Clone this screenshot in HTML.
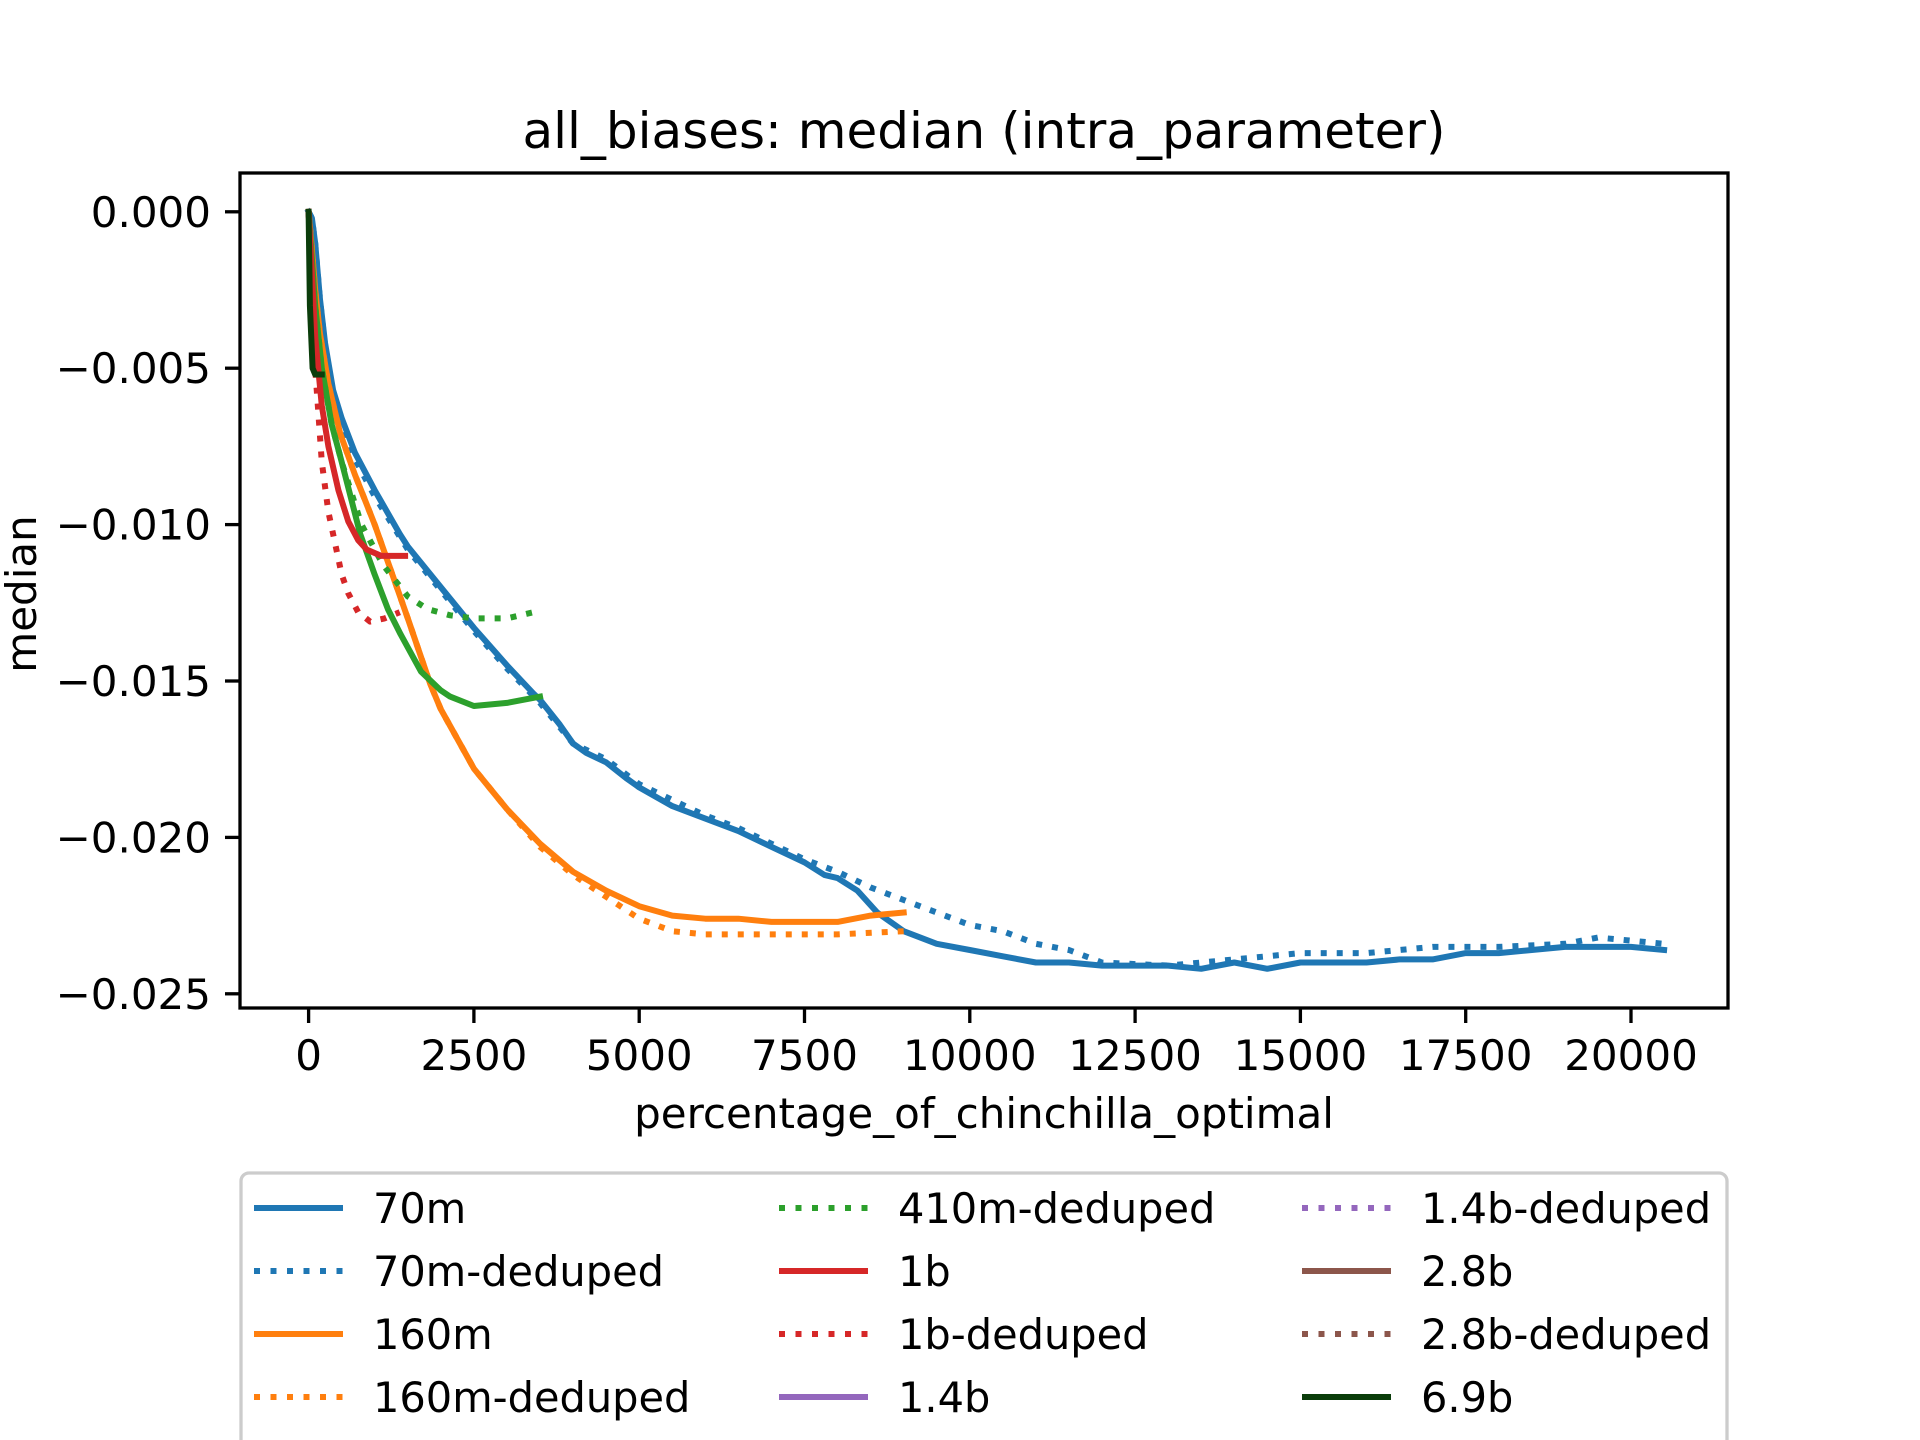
<!DOCTYPE html>
<html><head><meta charset="utf-8"><style>
html,body{margin:0;padding:0;background:#fff;}
svg{display:block;font-family:"DejaVu Sans","Liberation Sans",sans-serif;}
</style></head><body>
<svg id="chart" width="1920" height="1440" viewBox="0 0 1920 1440">
<rect width="1920" height="1440" fill="#fff"/>
<text x="984" y="148" font-size="50" text-anchor="middle">all_biases: median (intra_parameter)</text>
<g id="plot"></g>
<g id="ticks"></g>
<rect x="240" y="173" width="1488" height="835" fill="none" stroke="#000" stroke-width="3.3"/>
<text x="984" y="1128" font-size="42" text-anchor="middle">percentage_of_chinchilla_optimal</text>
<text x="36" y="594" font-size="42" text-anchor="middle" transform="rotate(-90 36 594)">median</text>
<rect x="241" y="1173" width="1486" height="300" rx="8" fill="#fff" fill-opacity="0.8" stroke="#ccc" stroke-width="3.3"/>
<g id="legend"></g>
</svg>
<script>
const NS="http://www.w3.org/2000/svg";
const xTicks=[0,2500,5000,7500,10000,12500,15000,17500,20000];
const yTicks=[0,-0.005,-0.010,-0.015,-0.020,-0.025];
const yTickLabels=["0.000","\u22120.005","\u22120.010","\u22120.015","\u22120.020","\u22120.025"];
const names=["70m","70m-deduped","160m","160m-deduped","410m","410m-deduped","1b","1b-deduped","1.4b","1.4b-deduped","2.8b","2.8b-deduped","6.9b"];
const colors=["#1f77b4","#1f77b4","#ff7f0e","#ff7f0e","#2ca02c","#2ca02c","#d62728","#d62728","#9467bd","#9467bd","#8c564b","#8c564b","#0b3d0b"];
const dotted=[false,true,false,true,false,true,false,true,false,true,false,true,false];
const x70m=[0,50,100,172,250,370,500,700,1000,1380,1500,2000,2500,3000,3400,3500,3800,4000,4200,4500,4800,5000,5500,6000,6500,7000,7500,7800,8000,8300,8600,9000,9500,10000,10500,11000,11500,12000,12500,13000,13500,14000,14500,15000,15500,16000,16500,17000,17500,18000,18500,19000,19500,20000,20500];
const y70m=[0,-0.0002,-0.001,-0.0028,-0.0042,-0.0057,-0.0066,-0.0077,-0.0089,-0.0103,-0.0107,-0.0120,-0.0133,-0.0145,-0.0154,-0.0156,-0.0164,-0.0170,-0.0173,-0.0176,-0.0181,-0.0184,-0.0190,-0.0194,-0.0198,-0.0203,-0.0208,-0.0212,-0.0213,-0.0217,-0.0224,-0.0230,-0.0234,-0.0236,-0.0238,-0.0240,-0.0240,-0.0241,-0.0241,-0.0241,-0.0242,-0.0240,-0.0242,-0.0240,-0.0240,-0.0240,-0.0239,-0.0239,-0.0237,-0.0237,-0.0236,-0.0235,-0.0235,-0.0235,-0.0236];
const x70md=[0,50,100,172,250,370,500,700,1000,1500,2000,2500,3000,3500,4000,4500,5000,5500,6000,6500,7000,7500,8000,8500,9000,9500,10000,10500,11000,11500,12000,13000,14000,15000,16000,17000,18000,19000,19500,20500];
const y70md=[0,-0.0002,-0.001,-0.0028,-0.0043,-0.0059,-0.0068,-0.0079,-0.0091,-0.0108,-0.0121,-0.0134,-0.0146,-0.0157,-0.0170,-0.0175,-0.0183,-0.0188,-0.0193,-0.0197,-0.0202,-0.0207,-0.0211,-0.0216,-0.0220,-0.0224,-0.0228,-0.0230,-0.0234,-0.0236,-0.0240,-0.0241,-0.0239,-0.0237,-0.0237,-0.0235,-0.0235,-0.0234,-0.0232,-0.0234];
const x160m=[0,50,100,172,300,480,700,1000,1300,1500,1840,2000,2500,3000,3500,4000,4500,5000,5500,6000,6500,7000,7500,8000,8500,9000];
const y160m=[0,-0.0012,-0.0025,-0.0039,-0.0055,-0.0071,-0.0084,-0.0100,-0.0118,-0.0130,-0.0151,-0.0159,-0.0178,-0.0191,-0.0202,-0.0211,-0.0217,-0.0222,-0.0225,-0.0226,-0.0226,-0.0227,-0.0227,-0.0227,-0.0225,-0.0224];
const x160md=[0,50,100,172,300,480,700,1000,1300,1500,1840,2000,2500,3000,3500,4000,4500,5000,5500,6000,7000,8000,9000];
const y160md=[0,-0.0012,-0.0025,-0.0039,-0.0055,-0.0071,-0.0084,-0.0100,-0.0118,-0.0130,-0.0151,-0.0159,-0.0178,-0.0191,-0.0203,-0.0212,-0.0219,-0.0226,-0.0230,-0.0231,-0.0231,-0.0231,-0.0230];
const x410m=[0,50,100,200,350,500,780,1000,1200,1390,1700,2000,2140,2500,3000,3500];
const y410m=[0,-0.0015,-0.003,-0.005,-0.0068,-0.0080,-0.0103,-0.0116,-0.0127,-0.0135,-0.0147,-0.0153,-0.0155,-0.0158,-0.0157,-0.0155];
const x410md=[0,100,200,350,500,800,1130,1500,1800,2140,2500,3000,3400];
const y410md=[0,-0.003,-0.005,-0.0068,-0.0080,-0.0100,-0.0113,-0.0123,-0.0127,-0.0129,-0.0130,-0.0130,-0.0128];
const x1b=[0,100,200,300,450,600,750,880,1100,1460];
const y1b=[0,-0.004,-0.0062,-0.0075,-0.0089,-0.0099,-0.0105,-0.0108,-0.0110,-0.0110];
const x1bd=[0,100,200,300,370,500,600,750,930,1150,1380];
const y1bd=[0,-0.005,-0.008,-0.0096,-0.0103,-0.0116,-0.0122,-0.0128,-0.0131,-0.0130,-0.0128];
const x69b=[0,20,60,100,200];
const y69b=[0,-0.003,-0.005,-0.0052,-0.0052];
const seriesX=[x70m,x70md,x160m,x160md,x410m,x410md,x1b,x1bd,null,null,null,null,x69b];
const seriesY=[y70m,y70md,y160m,y160md,y410m,y410md,y1b,y1bd,null,null,null,null,y69b];
function sx(v){return 308.6+v*(165.3/2500);}
function sy(v){return 211.8-v*31280;}
const plot=document.getElementById('plot');
const tk=document.getElementById('ticks');
const drawOrder=[0,1,2,3,4,5,6,7,12];
for(const i of drawOrder){
  const xs=seriesX[i],ys=seriesY[i];
  const p=document.createElementNS(NS,'polyline');
  p.setAttribute('points',xs.map((x,j)=>sx(x).toFixed(1)+','+sy(ys[j]).toFixed(1)).join(' '));
  p.setAttribute('fill','none');p.setAttribute('stroke',colors[i]);p.setAttribute('stroke-width','6');
  p.setAttribute('stroke-linejoin','round');
  if(dotted[i])p.setAttribute('stroke-dasharray','6 10');else p.setAttribute('stroke-linecap','square');
  
  
  plot.appendChild(p);
}
xTicks.forEach(v=>{
  const l=document.createElementNS(NS,'line');
  l.setAttribute('x1',sx(v));l.setAttribute('x2',sx(v));l.setAttribute('y1',1008);l.setAttribute('y2',1023);
  l.setAttribute('stroke','#000');l.setAttribute('stroke-width','3.3');
  
  
  tk.appendChild(l);
  const t=document.createElementNS(NS,'text');
  t.setAttribute('x',sx(v));t.setAttribute('y',1070);t.setAttribute('font-size','42');t.setAttribute('text-anchor','middle');
  t.textContent=String(v);
  
  
  tk.appendChild(t);
});
yTicks.forEach((v,k)=>{
  const l=document.createElementNS(NS,'line');
  l.setAttribute('x1',225);l.setAttribute('x2',240);l.setAttribute('y1',sy(v));l.setAttribute('y2',sy(v));
  l.setAttribute('stroke','#000');l.setAttribute('stroke-width','3.3');
  
  
  tk.appendChild(l);
  const t=document.createElementNS(NS,'text');
  t.setAttribute('x',211);t.setAttribute('y',sy(v)+15);t.setAttribute('font-size','42');t.setAttribute('text-anchor','end');
  t.textContent=yTickLabels[k];
  
  
  tk.appendChild(t);
});
const leg=document.getElementById('legend');
const legendItems=[0,1,2,3,5,6,7,8,9,10,11,12];
const colX=[254,779,1302],rowY=[1208,1271,1334,1397];
legendItems.forEach((i,k)=>{
  const c=Math.floor(k/4),r=k%4;
  const g=document.createElementNS(NS,'g');
  
  
  const l=document.createElementNS(NS,'line');
  l.setAttribute('x1',colX[c]);l.setAttribute('x2',colX[c]+89);l.setAttribute('y1',rowY[r]);l.setAttribute('y2',rowY[r]);
  l.setAttribute('stroke',colors[i]);l.setAttribute('stroke-width','6');
  if(dotted[i])l.setAttribute('stroke-dasharray','6 10.5');
  g.appendChild(l);
  const t=document.createElementNS(NS,'text');
  t.setAttribute('x',colX[c]+119);t.setAttribute('y',rowY[r]+15);t.setAttribute('font-size','41.5');
  t.textContent=names[i];
  g.appendChild(t);
  leg.appendChild(g);
});
</script>
</body></html>
